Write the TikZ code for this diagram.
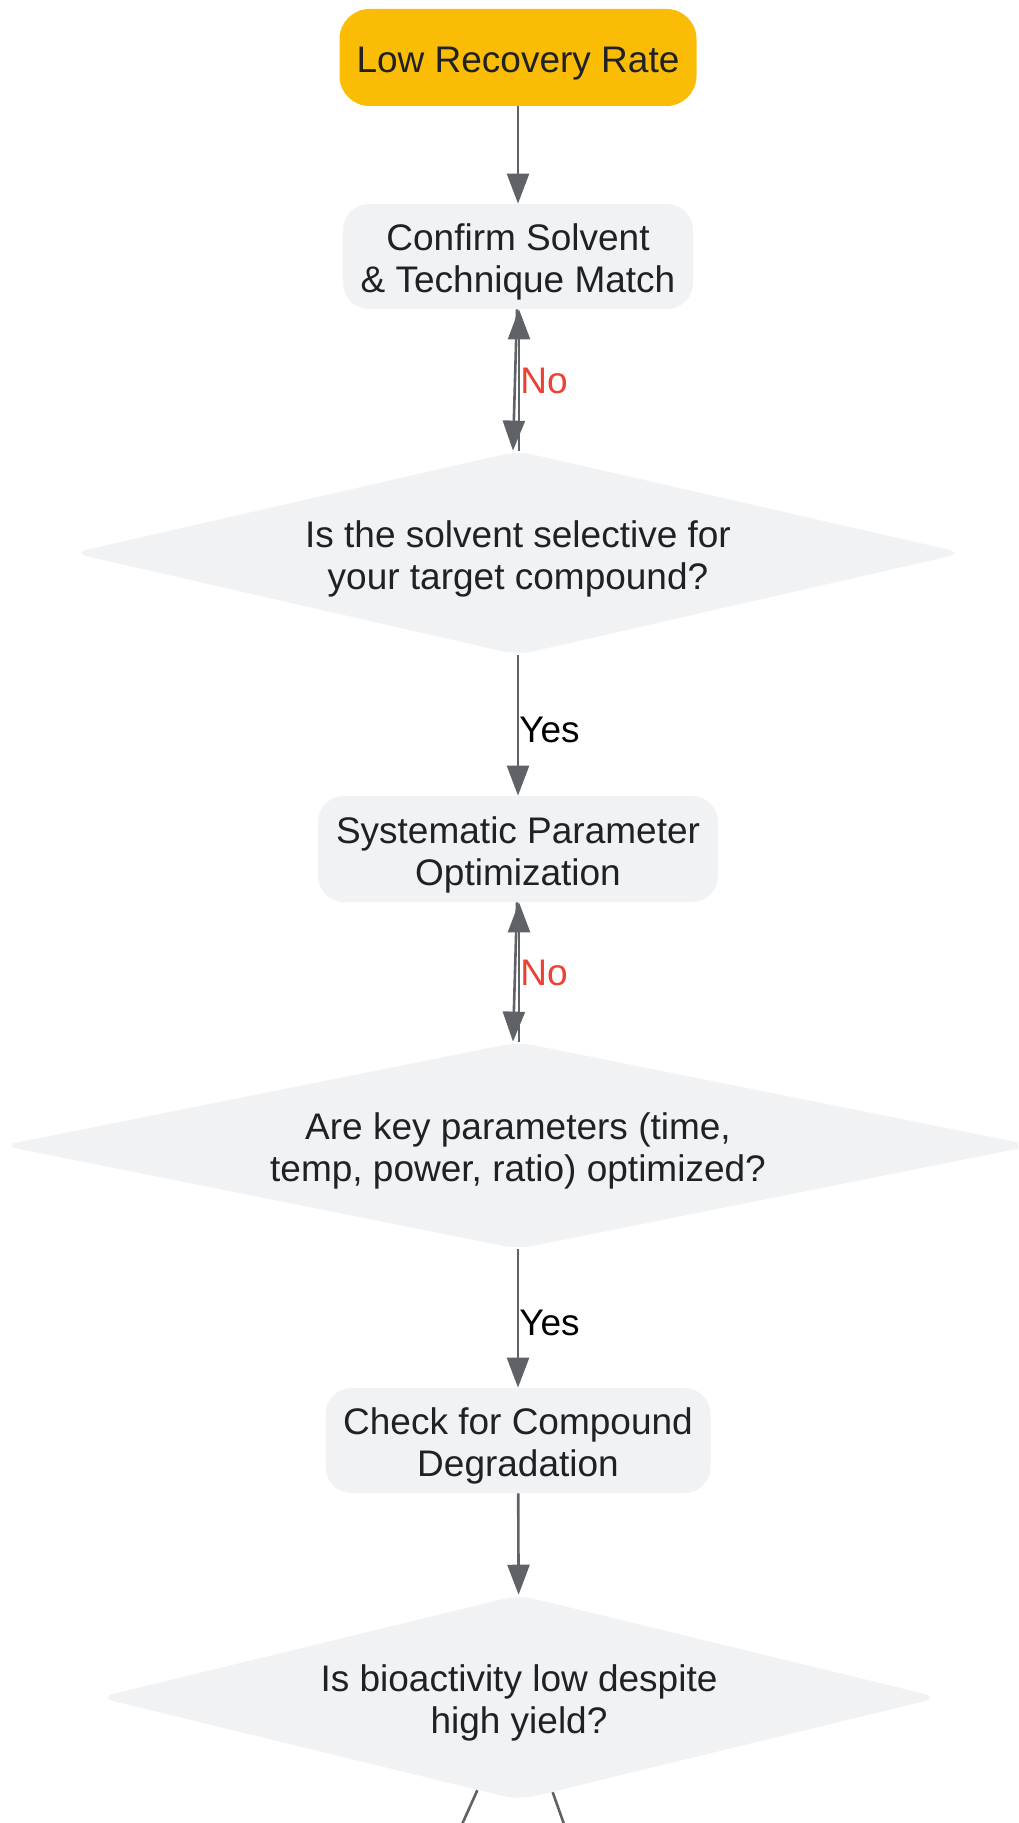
\documentclass[tikz,border=0pt]{standalone}
\usepackage{fontspec}
\setmainfont{Liberation Sans}
\usetikzlibrary{shapes.geometric,arrows.meta,calc}
\newcommand{\textlift}{\rule{0pt}{19.3pt}}
\definecolor{amber}{HTML}{FBBC05}
\definecolor{boxgray}{HTML}{F1F2F4}
\definecolor{edgegray}{HTML}{5F6368}
\definecolor{textgray}{HTML}{202124}
\definecolor{lightred}{HTML}{EA4335}
\tikzstyle{flow_node}=[rectangle, rounded corners=13pt, inner sep=0pt, align=center, text=textgray]
\tikzstyle{flow_step}=[flow_node, fill=boxgray]
\tikzstyle{flow_start}=[flow_node, fill=amber, rounded corners=15pt]
\tikzstyle{flow_decision}=[diamond, shape aspect=4.4, rounded corners=8pt, inner sep=0pt, fill=boxgray, align=center, text=textgray]
\tikzstyle{flow_edge}=[draw=edgegray, line width=1.3pt]
\tikzstyle{flow_label}=[right, inner sep=0pt, yshift=-2pt, text=black]
\tikzstyle{flow_label_no}=[flow_label, yshift=1.5pt, text=lightred]

\begin{document}
\begin{tikzpicture}[x=0.5pt, y=-0.5pt, >={Triangle[length=15pt,width=11pt]}, font=\fontsize{18.5pt}{21pt}\selectfont]

            % canvas
            \useasboundingbox (0,0) rectangle (1018,1823);
            \fill[white] (0,0) rectangle (1018,1823);
            \clip (0,0) rectangle (1018,1823);

            % Start
            \node[flow_start,minimum width=178.5pt,minimum height=48.5pt] (low_recovery) at (518,57.5) {\textlift Low Recovery Rate};

            % Solvent check
            \node[flow_step,minimum width=175pt,minimum height=52.5pt] (confirm_solvent) at (518,256.5) {\textlift Confirm Solvent\\\& Technique Match};
            \node[flow_decision,minimum width=445.5pt,minimum height=102pt] (solvent_selective) at (518,553) {\textlift Is the solvent selective for\\your target compound?};

            % Parameter check
            \node[flow_step,minimum width=200pt,minimum height=53pt] (parameter_optimization) at (518,849) {\textlift Systematic Parameter\\Optimization};
            \node[flow_decision,minimum width=516pt,minimum height=103.5pt] (parameters_optimized) at (518,1145.5) {\textlift Are key parameters (time,\\temp, power, ratio) optimized?};

            % Degradation check
            \node[flow_step,minimum width=192.5pt,minimum height=52.5pt] (check_degradation) at (518,1440.5) {\textlift Check for Compound\\Degradation};
            \node[flow_decision,minimum width=420.5pt,minimum height=102.5pt] (bioactivity_low) at (519,1697.5) {\textlift Is bioactivity low despite\\high yield?};
            \coordinate (bioactivity_out_left) at (428,1900);
            \coordinate (bioactivity_out_right) at (591,1900);

            % Edges
            \draw[flow_edge,->] (low_recovery) -- (confirm_solvent);
            \draw[flow_edge,->] ($(confirm_solvent.south) + (-1,0)$) -- ($(solvent_selective.north) + (-5,0)$);
            \draw[flow_edge,->] ($(solvent_selective.north) + (1,0)$) -- node[flow_label_no] {No} ($(confirm_solvent.south) + (1,0)$);
            \draw[flow_edge,->] (solvent_selective) -- node[flow_label] {Yes} (parameter_optimization);
            \draw[flow_edge,->] ($(parameter_optimization.south) + (-1,0)$) -- ($(parameters_optimized.north) + (-5,0)$);
            \draw[flow_edge,->] ($(parameters_optimized.north) + (1,0)$) -- node[flow_label_no] {No} ($(parameter_optimization.south) + (1,0)$);
            \draw[flow_edge,->] (parameters_optimized) -- node[flow_label] {Yes} (check_degradation);
            \draw[flow_edge,->] (check_degradation) -- (bioactivity_low);
            \draw[flow_edge,->] (bioactivity_low) -- (bioactivity_out_left);
            \draw[flow_edge,->] (bioactivity_low) -- (bioactivity_out_right);

\end{tikzpicture}
\end{document}
